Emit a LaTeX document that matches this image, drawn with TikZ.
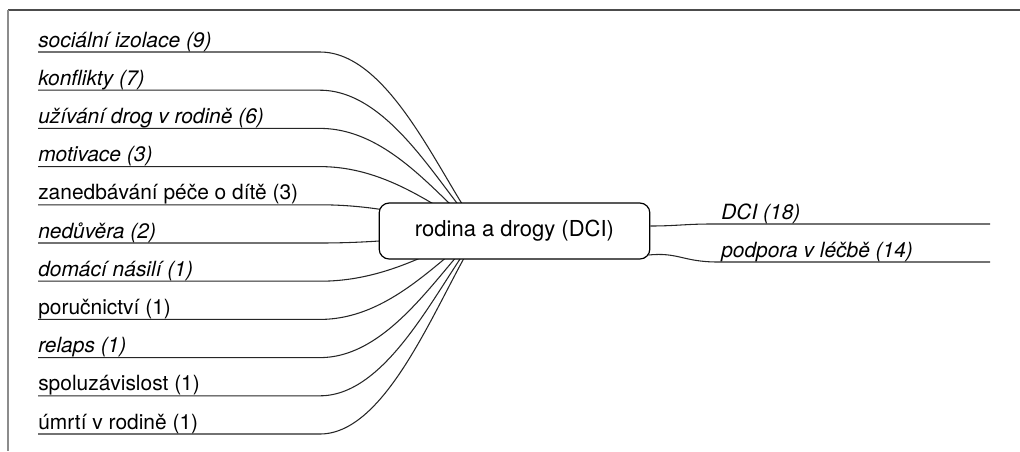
\documentclass[tikz,border=0pt]{standalone}
\usepackage{fontspec}
\setmainfont{TeX Gyre Heros}
\tikzset{
	leaf/.style={anchor=base west, inner sep=0pt, font=\fontsize{15.7}{18}\selectfont},
	branch/.style={line width=0.8pt, black!85},
	topic/.style={draw, line width=0.9pt, rounded corners=7.5pt, fill=white,
		minimum width=203pt, minimum height=42pt, font=\fontsize{16.5}{20}\selectfont},
}
\begin{document}
\begin{tikzpicture}[x=0.75pt,y=-0.75pt]
	\useasboundingbox (0,0) rectangle (1020,451);

	% frame
	\draw [black!70, line width=1.5pt] (8,10) -- (1020,10);
	\draw [black!45, line width=1.5pt] (8,10) -- (8,451);

	\coordinate (hub) at (480,231);

	% left branches
	\foreach \txt [count=\i from 0] in {{\itshape sociální izolace (9)}, {\itshape konflikty (7)},
		{\itshape užívání drog v rodině (6)}, {\itshape motivace (3)}, {zanedbávání péče o dítě (3)},
		{\itshape nedůvěra (2)}, {\itshape domácí násilí (1)}, {poručnictví (1)}, {\itshape relaps (1)},
		{spoluzávislost (1)}, {úmrtí v rodině (1)}} {
		\pgfmathsetmacro\yy{52+38.2*\i}
		\pgfmathsetmacro\dy{(\yy-231)*0.3}
		\node[leaf] (l\i) at (38,\yy-5) {\txt};
		\draw [branch] (l\i.base west) ++(0,5) -- ++(282,0) .. controls +(70,0) and +(-40,\dy) .. (hub);
	}

	% central topic
	\node[topic] (root) at (514.5,231) {rodina a drogy (DCI)};

	% right branches
	\node[leaf] (r1) at (721,219) {\itshape DCI (18)};
	\node[leaf] (r2) at (721,257) {\itshape podpora v léčbě (14)};
	\draw [branch] (r1.base west) ++(269,5) -- ++(-279,0) .. controls +(-25,0) and +(25,0) .. ([yshift=3.75pt]root.east);
	\draw [branch] (r2.base west) ++(269,5) -- ++(-272,0) .. controls +(-35,0) and +(30,-3) .. ([xshift=-1.5pt,yshift=-18pt]root.east);
\end{tikzpicture}
\end{document}
